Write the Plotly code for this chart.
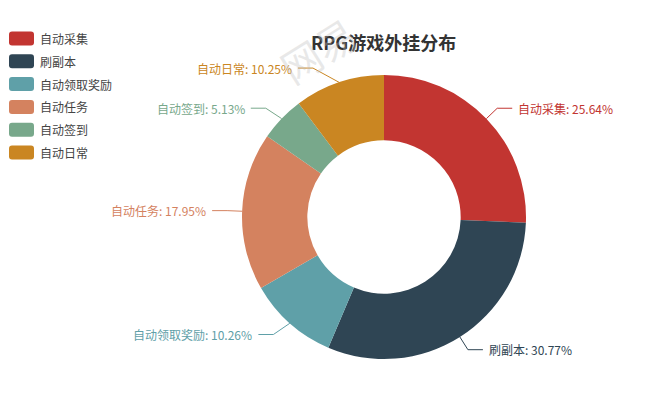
import numpy as np
import plotly.graph_objects as go

# data (share in %, as shown on the chart)
labels = ["自动采集", "刷副本", "自动领取奖励", "自动任务", "自动签到", "自动日常"]
shares = [25.64, 30.77, 10.26, 17.95, 5.13, 10.25]
colors = ["#c23531", "#2f4554", "#5fa0a8", "#d4825f", "#78a88b", "#ca8622"]
title = "RPG游戏外挂分布"

OFF = 8                             # page body margin
W, H = 650 - OFF, 400 - OFF
cx, cy, R = 384, 217, 142          # pie centre / radius in window px
len1, len2 = 15, 15                 # label line segments
FONT = "Noto Sans CJK SC, Microsoft YaHei, sans-serif"

def px2paper(x, y):
    return (x - OFF) / W, 1 - (y - OFF) / H

fig = go.Figure()
(dx0, dy1), (dx1, dy0) = px2paper(cx - R, cy - R), px2paper(cx + R, cy + R)
fig.add_trace(go.Pie(
    labels=labels, values=shares, marker=dict(colors=colors, line=dict(width=0)),
    hole=0.54, sort=False, direction="clockwise", rotation=0,
    textinfo="none", showlegend=False, hoverinfo="label+value",
    domain=dict(x=[dx0, dx1], y=[dy0, dy1]),
))

# outside labels with leader lines (echarts-like)
tot = float(sum(shares))
cum = np.cumsum([0] + shares[:-1])
shapes, annos = [], []
for lab, v, c0, col in zip(labels, shares, cum, colors):
    a = np.deg2rad((c0 + v / 2) / tot * 360)
    sx, sy = np.sin(a), -np.cos(a)
    x0, y0 = cx + R * sx, cy + R * sy
    x1, y1 = cx + (R + len1) * sx, cy + (R + len1) * sy
    d = 1 if sx >= 0 else -1
    if d > 0:
        x2 = x1 + len2
    else:
        # left side labels were pushed onto the outer ring
        dy = abs(y1 - cy)
        x2 = cx - np.sqrt((R + len1 + len2) ** 2 - dy ** 2)
        x1 = x2 + len2
    p = [px2paper(x0, y0), px2paper(x1, y1), px2paper(x2, y1)]
    shapes.append(dict(type="path", xref="paper", yref="paper",
                       path="M%f,%f L%f,%f L%f,%f" % (p[0] + p[1] + p[2]),
                       line=dict(color=col, width=1)))
    tx, ty = px2paper(x2 + 4 * d, y1)
    annos.append(dict(x=tx, y=ty, xref="paper", yref="paper", showarrow=False,
                      text="%s: %.2f%%" % (lab, v), xanchor="left" if d > 0 else "right",
                      yanchor="middle", font=dict(size=12, color=col, family=FONT)))

# legend drawn as rounded boxes
for i, (lab, col) in enumerate(zip(labels, colors)):
    yc = 38.5 + 22.8 * i
    x0, x1, y0, y1, r = 9, 34, yc - 7, yc + 7, 3
    pts = [(x0 + r, y0), (x1 - r, y0), (x1, y0 + r), (x1, y1 - r), (x1 - r, y1), (x0 + r, y1), (x0, y1 - r), (x0, y0 + r)]
    pp = [px2paper(*q) for q in pts]
    path = ("M%f,%f L%f,%f Q%f,%f %f,%f L%f,%f Q%f,%f %f,%f L%f,%f Q%f,%f %f,%f L%f,%f Q%f,%f %f,%f Z" % (
        pp[0] + pp[1] + px2paper(x1, y0) + pp[2] + pp[3] + px2paper(x1, y1) + pp[4] + pp[5]
        + px2paper(x0, y1) + pp[6] + pp[7] + px2paper(x0, y0) + pp[0]))
    shapes.append(dict(type="path", xref="paper", yref="paper", path=path,
                       fillcolor=col, line=dict(width=0)))
    tx, ty = px2paper(38, yc)
    annos.append(dict(x=tx, y=ty, xref="paper", yref="paper", showarrow=False, text=lab,
                      xanchor="left", yanchor="middle", font=dict(size=12, color="#444", family=FONT)))

# title
tx, ty = px2paper(384, 42)
annos.append(dict(x=tx, y=ty, xref="paper", yref="paper", showarrow=False, text="<b>%s</b>" % title,
                  xanchor="center", yanchor="middle", font=dict(size=18, color="#333", family=FONT)))

# faint watermark
tx, ty = px2paper(318, 50)
annos.append(dict(x=tx, y=ty, xref="paper", yref="paper", showarrow=False, text="网易", textangle=-32,
                  xanchor="center", yanchor="middle",
                  font=dict(size=40, color="rgba(190,190,190,0.35)", family=FONT)))

fig.update_layout(width=W, height=H, margin=dict(l=0, r=0, t=0, b=0),
                  paper_bgcolor="white", plot_bgcolor="white",
                  shapes=shapes, annotations=annos)
fig.write_html("out.html")
